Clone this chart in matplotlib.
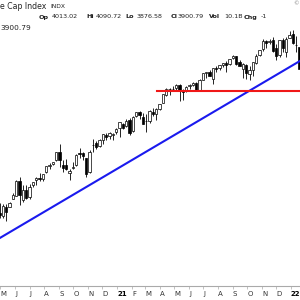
import matplotlib
matplotlib.use("Agg")
import matplotlib.pyplot as plt
import matplotlib.dates as mdates
import pandas as pd

# weekly candles, one per week starting 2020-04-29
first_week = "2020-04-29"
opens = [2854, 2815, 2915, 2913, 3004, 3038, 3199, 2994, 3094, 3018,
         3155, 3205, 3224, 3219, 3288, 3356, 3380, 3418, 3509, 3371,
         3363, 3285, 3334, 3367, 3500, 3493, 3441, 3296, 3583, 3600,
         3566, 3641, 3694, 3675, 3694, 3723,
         3764, 3803, 3781, 3851, 3731, 3892, 3939, 3885, 3842, 3844,
         3942, 3916, 3969, 4034, 4124, 4179, 4185, 4191, 4228, 4169,
         4170, 4216, 4229, 4248, 4173, 4284, 4356, 4372, 4296, 4409,
         4406, 4437, 4461, 4450, 4514, 4535, 4474, 4403, 4442, 4348,
         4385, 4463, 4553, 4610, 4701, 4689, 4712, 4628, 4548, 4710,
         4587, 4733, 4778, 4655, 4632]
highs = [2954, 2945, 2945, 2968, 3068, 3211, 3233, 3155, 3155, 3165,
         3186, 3240, 3280, 3272, 3352, 3387, 3399, 3509, 3588, 3425,
         3429, 3320, 3398, 3482, 3550, 3502, 3441, 3529, 3646, 3628,
         3645, 3705, 3712, 3726, 3712, 3760,
         3826, 3823, 3861, 3871, 3894, 3937, 3950, 3928, 3915, 3960,
         3983, 3978, 4019, 4129, 4191, 4194, 4218, 4238, 4236, 4186,
         4213, 4234, 4255, 4262, 4287, 4356, 4372, 4393, 4415, 4429,
         4441, 4468, 4480, 4510, 4545, 4535, 4492, 4465, 4458, 4429,
         4475, 4560, 4608, 4718, 4714, 4718, 4744, 4672, 4713, 4732,
         4740, 4808, 4819, 4749, 4632]
lows = [2797, 2797, 2766, 2913, 2999, 3032, 2936, 2965, 3004, 3000,
        3127, 3153, 3200, 3191, 3284, 3327, 3362, 3405, 3349, 3293,
        3313, 3209, 3324, 3355, 3441, 3424, 3234, 3279, 3511, 3543,
        3557, 3594, 3633, 3648, 3636, 3697,
        3663, 3749, 3775, 3694, 3726, 3885, 3865, 3805, 3723, 3819,
        3894, 3853, 3955, 4034, 4111, 4118, 4170, 4168, 4057, 4061,
        4155, 4183, 4218, 4164, 4165, 4276, 4300, 4321, 4233, 4367,
        4384, 4422, 4367, 4444, 4509, 4447, 4427, 4305, 4288, 4278,
        4329, 4448, 4537, 4595, 4630, 4672, 4585, 4495, 4532, 4583,
        4531, 4733, 4663, 4582, 4395]
closes = [2830, 2930, 2864, 2955, 3044, 3194, 3041, 3097, 3009, 3130,
          3185, 3224, 3215, 3271, 3351, 3372, 3397, 3508, 3426, 3340,
          3319, 3298, 3348, 3477, 3483, 3465, 3270, 3509, 3585, 3557,
          3638, 3699, 3663, 3709, 3703, 3756,
          3824, 3768, 3841, 3714, 3886, 3934, 3906, 3811, 3841, 3943,
          3913, 3974, 4019, 4128, 4185, 4180, 4181, 4232, 4173, 4156,
          4204, 4229, 4247, 4166, 4281, 4352, 4370, 4327, 4412, 4395,
          4437, 4468, 4442, 4509, 4535, 4458, 4432, 4455, 4357, 4391,
          4471, 4544, 4605, 4697, 4682, 4697, 4594, 4538, 4712, 4620,
          4725, 4766, 4677, 4662, 4398]

# trendline and resistance line anchors
trend_dates = ["2020-04-30", "2022-01-20"]
trend_prices = [2583, 4486]
resist_dates = ["2021-03-26", "2022-01-21"]
resist_prices = [4163, 4163]

month_starts = pd.date_range("2020-05-01", "2022-01-01", freq="MS")
month_labels = ["M", "J", "J", "A", "S", "O", "N", "D", "21", "F", "M",
                "A", "M", "J", "J", "A", "S", "O", "N", "D", "22"]

weeks = mdates.date2num(pd.date_range(first_week, periods=len(closes), freq="7D"))

fig = plt.figure(figsize=(3, 3), dpi=100)
ax = fig.add_axes([0, 14 / 300, 1, 286 / 300])

ax.vlines(weeks, lows, highs, color="black", linewidth=0.6, zorder=1)
bottoms = [min(o, c) for o, c in zip(opens, closes)]
heights = [abs(c - o) for o, c in zip(opens, closes)]
faces = ["white" if c >= o else "black" for o, c in zip(opens, closes)]
ax.bar(weeks, heights, bottom=bottoms, width=4.8, color=faces,
       edgecolor="black", linewidth=0.5, zorder=2)

ax.plot(mdates.date2num(pd.to_datetime(trend_dates)), trend_prices,
        color="#1a1aee", linewidth=1.5, zorder=3)
ax.plot(mdates.date2num(pd.to_datetime(resist_dates)), resist_prices,
        color="#f01818", linewidth=1.5, zorder=3)

x0 = mdates.date2num(pd.Timestamp("2020-04-30"))
ax.set_xlim(x0, x0 + 630)
ax.set_ylim(2066, 5141)

for s in ["top", "left", "right"]:
    ax.spines[s].set_visible(False)
ax.spines["bottom"].set_linestyle((0, (1, 1)))
ax.spines["bottom"].set_color("#aaaaaa")
ax.spines["bottom"].set_linewidth(0.8)
ax.set_yticks([])
ax.set_xticks(mdates.date2num(month_starts))
ax.set_xticklabels(month_labels, fontsize=5, color="#333333", ha="left")
ax.tick_params(axis="x", length=2, width=0.5, color="#aaaaaa", pad=1.5)
for lab in ax.get_xticklabels():
    if lab.get_text() in ("21", "22"):
        lab.set_fontweight("bold")
        lab.set_color("black")

# header text (only the part visible in the crop)
def px(x, y):
    return x / 300, 1 - y / 300

fig.text(*px(0, 6.5), "e Cap Index", fontsize=5.6, ha="left",
         va="center", color="#222222")
fig.text(*px(50, 6.8), "INDX", fontsize=4.3, ha="left", va="center", color="#222222")
pieces = [(39, "Op", True), (52, "4013.02", False), (86, "Hi", True),
          (96, "4090.72", False), (125, "Lo", True), (137, "3876.58", False),
          (171, "Cl", True), (178, "3900.79", False), (209, "Vol", True),
          (224, "10.1B", False), (244, "Chg", True), (261, "-1", False)]
for x, t, b in pieces:
    fig.text(*px(x, 17), t, fontsize=4.6, ha="left", va="center",
             fontweight="bold" if b else "normal", color="#222222")
fig.text(*px(0, 28), "3900.79", fontsize=5.3, ha="left", va="center", color="#222222")
fig.text(*px(293, 3.5), "©", fontsize=4, ha="left", va="center", color="#888888")

fig.savefig("out.png", dpi=100)
